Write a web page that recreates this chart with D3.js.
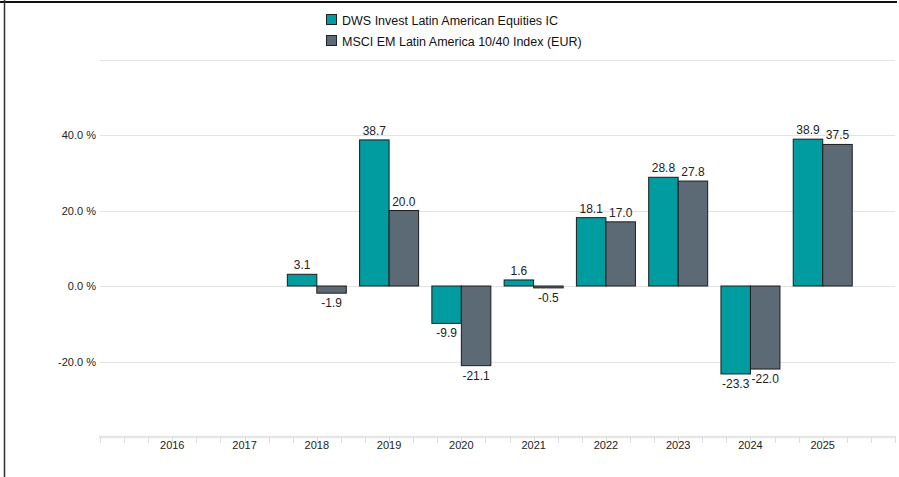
<!DOCTYPE html>
<html>
<head>
<meta charset="utf-8">
<script src="https://cdn.jsdelivr.net/npm/d3@7"></script>
<style>
    body { margin: 0; background: #fff; }
    svg { display: block; font-family: "Liberation Sans", Arial, sans-serif; }
</style>
</head>
<body>
<svg></svg>
<script>
// chart data
const years = ["2016", "2017", "2018", "2019", "2020", "2021", "2022", "2023", "2024", "2025"];
const fundValues = [null, null, 3.1, 38.7, -9.9, 1.6, 18.1, 28.8, -23.3, 38.9];
const indexValues = [null, null, -1.9, 20.0, -21.1, -0.5, 17.0, 27.8, -22.0, 37.5];
const seriesNames = ["DWS Invest Latin American Equities IC", "MSCI EM Latin America 10/40 Index (EUR)"];
const yTicks = [-40, -20, 0, 20, 40, 60];
const yLabelTicks = [-20, 0, 20, 40];

const width = 899;
const height = 477;
const colors = ["#009c9f", "#5b6a75"];

// plain hyphen instead of d3's unicode minus
const fmt = (v) => d3.format(".1f")(v).replace("\u2212", "-");

const svg = d3.select("svg")
    .attr("width", width)
    .attr("height", height);

// frame lines
svg.append("line")
    .attr("x1", 0).attr("x2", 897)
    .attr("y1", 2).attr("y2", 2)
    .attr("stroke", "#111").attr("stroke-width", 2);
svg.append("line")
    .attr("x1", 4.5).attr("x2", 4.5)
    .attr("y1", 0).attr("y2", height)
    .attr("stroke", "#333").attr("stroke-width", 1.5);

const xScale = d3.scaleBand()
    .domain(years)
    .range([100, 895])
    .paddingInner(0)
    .paddingOuter(0.5);

const yScale = d3.scaleLinear()
    .domain([-40, 60])
    .range([437, 59.5]);

// gridlines
svg.append("g")
    .selectAll("line")
    .data(yTicks.filter(d => d !== -40))
    .enter()
    .append("line")
    .attr("x1", 100)
    .attr("x2", 895)
    .attr("y1", d => Math.round(yScale(d)) + 0.5)
    .attr("y2", d => Math.round(yScale(d)) + 0.5)
    .attr("stroke", "#e3e3e3")
    .attr("stroke-width", 1.2);

// y labels
const yAxis = d3.axisLeft(yScale)
    .tickValues(yLabelTicks)
    .tickFormat(d => fmt(d) + " %")
    .tickSize(0)
    .tickPadding(0);

const yAxisGroup = svg.append("g")
    .attr("transform", "translate(96, 0)")
    .call(yAxis);
yAxisGroup.select(".domain").remove();
yAxisGroup.selectAll("text")
    .attr("fill", "#222")
    .style("font-size", "11px")
    .style("font-family", "'Liberation Sans', Arial, sans-serif");

// x axis: light baseline with small ticks every third of a band
const xAxisY = yScale(-40);
svg.append("line")
    .attr("x1", 99).attr("x2", 896)
    .attr("y1", xAxisY).attr("y2", xAxisY)
    .attr("stroke", "#e6e6e6").attr("stroke-width", 2.5);

const step = xScale.step() / 3;
const minorTicks = d3.range(0, 34).map(i => 100 + i * step).filter(x => x <= 896);
svg.append("g")
    .selectAll("line")
    .data(minorTicks)
    .enter()
    .append("line")
    .attr("x1", d => Math.round(d) + 0.5)
    .attr("x2", d => Math.round(d) + 0.5)
    .attr("y1", xAxisY)
    .attr("y2", xAxisY + 6)
    .attr("stroke", "#dddddd")
    .attr("stroke-width", 1);

svg.append("g")
    .selectAll("text")
    .data(years)
    .enter()
    .append("text")
    .attr("x", d => xScale(d) + xScale.bandwidth() / 2)
    .attr("y", xAxisY + 12)
    .attr("text-anchor", "middle")
    .attr("fill", "#222")
    .style("font-size", "11px")
    .text(d => d);

// bars
const x1 = d3.scaleBand()
    .domain([0, 1])
    .range([0, xScale.bandwidth()])
    .paddingOuter(0.225)
    .paddingInner(0);

const barData = [];
years.forEach((year, i) => {
    [fundValues[i], indexValues[i]].forEach((v, s) => {
        if (v !== null) barData.push({ year: year, series: s, value: v });
    });
});

svg.append("g")
    .selectAll("rect")
    .data(barData)
    .enter()
    .append("rect")
    .attr("x", d => xScale(d.year) + x1(d.series))
    .attr("y", d => yScale(Math.max(0, d.value)))
    .attr("width", x1.bandwidth())
    .attr("height", d => Math.abs(yScale(d.value) - yScale(0)))
    .attr("fill", d => colors[d.series])
    .attr("stroke", "#1c1c1c")
    .attr("stroke-width", 1);

svg.append("g")
    .selectAll("text")
    .data(barData)
    .enter()
    .append("text")
    .attr("x", d => xScale(d.year) + x1(d.series) + x1.bandwidth() / 2)
    .attr("y", d => d.value >= 0 ? yScale(d.value) - 5 : yScale(d.value) + 14)
    .attr("text-anchor", "middle")
    .attr("fill", "#222")
    .style("font-size", "12px")
    .text(d => fmt(d.value));

// legend
const legend = svg.append("g")
    .attr("transform", "translate(326, 14)");

const legendItems = legend.selectAll("g")
    .data(seriesNames)
    .enter()
    .append("g")
    .attr("transform", (d, i) => "translate(0, " + (i * 21) + ")");

legendItems.append("rect")
    .attr("x", 0.5).attr("y", 0.5)
    .attr("width", 10).attr("height", 10)
    .attr("fill", (d, i) => colors[i])
    .attr("stroke", "#222")
    .attr("stroke-width", 1);

legendItems.append("text")
    .attr("x", 16)
    .attr("y", 10.5)
    .attr("fill", "#111")
    .style("font-size", "12.5px")
    .text(d => d);
</script>
</body>
</html>
